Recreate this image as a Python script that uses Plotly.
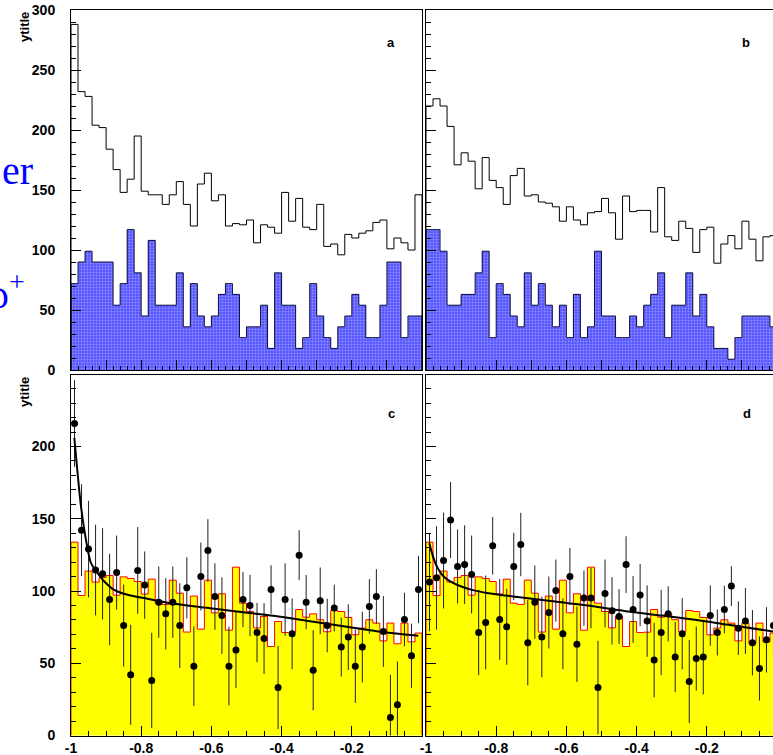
import numpy as np
import plotly.graph_objects as go

# ---------------------------------------------------------------- binning
n_bins = 50
edges = np.linspace(-1.0, 0.0, n_bins + 1)
centers = 0.5 * (edges[:-1] + edges[1:])
bin_w = edges[1] - edges[0]

# ---------------------------------------------------------------- panel a
a_total = [288, 232, 228, 204, 202, 184, 167, 148, 159, 195,
           149, 146, 146, 138, 146, 157, 138, 120, 155, 164,
           141, 146, 120, 122, 121, 125, 106, 121, 119, 114,
           148, 124, 143, 119, 117, 138, 103, 105, 96, 113,
           110, 114, 116, 123, 125, 101, 110, 106, 100, 146]
a_signal = [72, 90, 99, 90, 90, 90, 54, 72, 117, 81,
            45, 108, 54, 54, 54, 81, 36, 72, 45, 36,
            45, 63, 72, 63, 27, 36, 36, 54, 18, 81,
            54, 54, 18, 27, 72, 45, 27, 18, 36, 45,
            63, 54, 27, 27, 54, 90, 90, 27, 45, 45]

# ---------------------------------------------------------------- panel b
b_total = [220, 226, 220, 203, 171, 181, 174, 151, 177, 158,
           152, 138, 162, 168, 145, 146, 140, 139, 136, 124,
           136, 125, 121, 131, 132, 143, 131, 109, 145, 132,
           133, 133, 115, 152, 111, 108, 124, 118, 98, 117,
           119, 89, 105, 112, 101, 124, 109, 91, 111, 112]
b_signal = [117, 117, 99, 54, 54, 63, 63, 81, 99, 27,
            72, 63, 45, 36, 81, 54, 72, 54, 36, 54,
            27, 63, 27, 36, 99, 45, 45, 27, 27, 45,
            36, 54, 63, 81, 27, 54, 54, 81, 45, 63,
            36, 18, 18, 9, 27, 45, 45, 45, 45, 36]

# ------------------------------------------- reference shape (panels c, d)
mc_ref = [133.8, 96.9, 113.8, 106.2, 109.4, 110.7, 97.1, 109.8, 108.7, 106.6,
          97.9, 108.2, 91.6, 90.7, 107.5, 98.5, 71.6, 96.5, 73.6, 107.5,
          84.9, 98.1, 72.9, 116.5, 91.6, 85.8, 74.5, 82.4, 61.6, 78.9,
          71.3, 71.5, 87.2, 81.9, 84.2, 80.1, 71.8, 86.5, 85.8, 81.7,
          69.7, 74.3, 80.1, 77.8, 65.5, 77.8, 63.5, 77.8, 64.8, 70.9]

# ---------------------------------------------------------------- panel c
c_data = [215.9, 142.1, 129, 114.5, 111.9, 94.1, 112.8, 76.1, 42, 114.2,
          104.1, 38.1, 92.3, 84.2, 92.3, 76.1, 102.2, 48, 110, 128,
          96.2, 83, 48, 59.1, 94.1, 90, 71.3, 67.1, 101, 33.2,
          94.1, 70.4, 124.8, 92.3, 45.2, 93.2, 76.1, 88.2, 61.2, 68.1,
          48, 61.2, 89.3, 96.2, 72, 12.5, 21.2, 80.3, 55.2, 101]
c_err = [30, 31.8, 33.4, 31.4, 31.6, 31.6, 25.6, 28.4, 34.6, 30,
         23.3, 33, 24.7, 24.7, 24.7, 29.3, 21.2, 27.5, 23.5, 21.7,
         23, 26.5, 27.2, 26.3, 19.1, 21.2, 20.5, 24.5, 16.8, 28.8,
         25.1, 24.5, 17.3, 18.8, 27.7, 23.1, 18.5, 16.2, 20.4, 22.7,
         25.4, 24.5, 18.9, 18.9, 24.5, 29.5, 30, 18.5, 22.2, 23.3]
fit_c_x = [-0.9905, -0.981, -0.9715, -0.9573, -0.943, -0.924, -0.905, -0.877,
           -0.839, -0.791, -0.715, -0.620, -0.504, -0.409, -0.314, -0.219,
           -0.125, -0.0105]
fit_c_y = [206, 181, 158.5, 135.4, 119.3, 112.4, 106.6, 100.8,
           97.4, 95.1, 91.6, 88.6, 85.1, 82.4, 78.9, 75.4,
           72, 69]

# ---------------------------------------------------------------- panel d
d_data = [106.2, 109.1, 121.1, 149.1, 117, 118.3, 111.4, 71.3, 78.2, 131.3,
          80.3, 75.2, 117, 132.2, 64.2, 92.3, 68.1, 85.1, 100.3, 70.4,
          110, 63.2, 95.1, 95.1, 33.2, 98.3, 86.3, 82.4, 118.3, 87.2,
          97.2, 79.2, 52.2, 71.3, 84.2, 54.3, 70.4, 37.4, 53.3, 54.3,
          83, 71.3, 87.2, 103.4, 74.3, 79.2, 64.2, 46.4, 66.2, 76.1]
d_err = [34, 35.8, 33.2, 26.3, 25.6, 27.2, 27, 29.5, 32.5, 19.9,
         27.9, 26.3, 23.3, 21.9, 29.5, 25.4, 27.9, 24.9, 21.5, 24.5,
         19.8, 26.1, 19.1, 20.8, 32.3, 23.5, 23.3, 18.9, 19.6, 23.1,
         21.5, 24.7, 25.8, 29.5, 19.1, 24.2, 24.7, 28.8, 22.2, 25.8,
         20.8, 15.9, 16.4, 13.8, 18.5, 22.8, 22.6, 22.2, 22.6, 22]
fit_d_x = [-0.9905, -0.9829, -0.9734, -0.964, -0.9497, -0.931, -0.907, -0.869,
           -0.822, -0.774, -0.727, -0.632, -0.5185, -0.4236, -0.3286, -0.2336,
           -0.1387, -0.0114]
fit_d_y = [133.1, 126.2, 119.3, 114.7, 110, 106.6, 103.8, 100.8,
           98.5, 96.9, 95.5, 92.7, 89.3, 85.8, 83, 80.1,
           76.6, 72]

# ---------------------------------------------------------------- axis text
y_ticks_top = [0, 50, 100, 150, 200, 250, 300]
y_ticks_bottom = [0, 50, 100, 150, 200]
x_tick_vals = [-1.0, -0.8, -0.6, -0.4, -0.2]
x_tick_text = ["-1", "-0.8", "-0.6", "-0.4", "-0.2"]
panel_tags = ["a", "b", "c", "d"]
y_title = "ytitle"

# ---------------------------------------------------------------- geometry
W, H = 773, 755
SANS = "Liberation Sans, Arial, Helvetica, sans-serif"
BLUE_FILL = "#5555ff"


def px_x(p):
    return p / W


def px_y(p):
    return (H - p) / H


dom_left = [px_x(71), px_x(422)]
dom_right = [px_x(426), 1.0]
dom_top = [px_y(370), px_y(10)]
dom_bottom = [px_y(735.5), px_y(375)]
right_range = [-1.0, -1.0 + (W - 426) / 351.0]


def step_outline(vals):
    xs = [edges[0]] + list(edges[:-1]) + [edges[-1], edges[-1]]
    ys = [0] + list(vals) + [vals[-1], 0]
    return xs, ys


fig = go.Figure()


def add_top_panel(total, signal, xa, ya):
    fig.add_trace(go.Bar(
        x=centers, y=signal, width=bin_w, xaxis=xa, yaxis=ya,
        marker=dict(color=BLUE_FILL, line=dict(width=0),
                    pattern=dict(shape=".", size=3, solidity=0.35,
                                 fgcolor="#c8c8ff", fillmode="overlay")),
        hoverinfo="skip"))
    sx, sy = step_outline(signal)
    fig.add_trace(go.Scatter(x=sx, y=sy, mode="lines", xaxis=xa, yaxis=ya,
                             line=dict(color="#101040", width=1, shape="hv"),
                             hoverinfo="skip"))
    tx, ty = step_outline(total)
    fig.add_trace(go.Scatter(x=tx, y=ty, mode="lines", xaxis=xa, yaxis=ya,
                             line=dict(color="black", width=1, shape="hv"),
                             hoverinfo="skip"))


def add_bottom_panel(data, err, fx, fy, xa, ya):
    fig.add_trace(go.Bar(
        x=centers, y=mc_ref, width=bin_w, xaxis=xa, yaxis=ya,
        marker=dict(color="#ffff00", line=dict(width=0)), hoverinfo="skip"))
    sx, sy = step_outline(mc_ref)
    fig.add_trace(go.Scatter(x=sx, y=sy, mode="lines", xaxis=xa, yaxis=ya,
                             line=dict(color="#ff0000", width=1, shape="hv"),
                             hoverinfo="skip"))
    fig.add_trace(go.Scatter(
        x=centers, y=data, mode="markers", xaxis=xa, yaxis=ya,
        marker=dict(color="black", size=7),
        error_y=dict(type="data", array=err, width=0, thickness=1,
                     color="#202020"),
        hoverinfo="skip"))
    fig.add_trace(go.Scatter(x=fx, y=fy, mode="lines", xaxis=xa, yaxis=ya,
                             line=dict(color="black", width=2, shape="spline",
                                       smoothing=0.8),
                             hoverinfo="skip"))


add_top_panel(a_total, a_signal, "x", "y")
add_top_panel(b_total, b_signal, "x2", "y2")
add_bottom_panel(c_data, c_err, fit_c_x, fit_c_y, "x3", "y3")
add_bottom_panel(d_data, d_err, fit_d_x, fit_d_y, "x4", "y4")

tick_font = dict(family=SANS, size=14, color="black", weight="bold")
common = dict(showline=True, linecolor="black", linewidth=1, ticks="inside",
              tickcolor="black", tickwidth=1, showgrid=False, zeroline=False,
              tickfont=tick_font, layer="above traces", automargin=False)


def top_x(domain, rng, anchor):
    return dict(common, domain=domain, range=rng, anchor=anchor, mirror=True,
                tickmode="linear", tick0=-1, dtick=0.1, ticklen=10,
                showticklabels=False,
                minor=dict(ticks="inside", tickmode="linear", tick0=-1,
                           dtick=0.02, ticklen=4, tickcolor="black"))


def bottom_x(domain, rng, anchor):
    return dict(common, domain=domain, range=rng, anchor=anchor, mirror=True,
                tickmode="array", tickvals=x_tick_vals, ticktext=x_tick_text,
                ticklen=10, ticklabelstandoff=0,
                minor=dict(ticks="inside", tickmode="linear", tick0=-1,
                           dtick=0.05, ticklen=5, tickcolor="black"))


def y_axis(domain, rng, anchor, tickvals, labels, mirror):
    return dict(common, domain=domain, range=rng, anchor=anchor, mirror=mirror,
                tickmode="array", tickvals=tickvals, ticklen=10,
                showticklabels=labels, ticklabelstandoff=12,
                minor=dict(ticks="inside", tickmode="linear", tick0=0,
                           dtick=10, ticklen=5, tickcolor="black"))


fig.update_layout(
    template="none",
    width=W, height=H,
    margin=dict(l=0, r=0, t=0, b=0, autoexpand=False),
    paper_bgcolor="white", plot_bgcolor="white",
    showlegend=False, bargap=0, barmode="overlay",
    font=dict(family=SANS, size=14, color="black"),
    xaxis=top_x(dom_left, [-1.0, 0.0], "y"),
    yaxis=y_axis(dom_top, [0, 300], "x", y_ticks_top, True, True),
    xaxis2=top_x(dom_right, right_range, "y2"),
    yaxis2=y_axis(dom_top, [0, 300], "x2", y_ticks_top, False, False),
    xaxis3=bottom_x(dom_left, [-1.0, 0.0], "y3"),
    yaxis3=y_axis(dom_bottom, [0, 249.5], "x3", y_ticks_bottom, True, True),
    xaxis4=bottom_x(dom_right, right_range, "y4"),
    yaxis4=y_axis(dom_bottom, [0, 249.5], "x4", y_ticks_bottom, False, False),
)

# panel letters
tag_pos = [(391, 42), (746, 42), (391, 413), (747, 413)]
for tag, (tx, ty) in zip(panel_tags, tag_pos):
    fig.add_annotation(text=tag, x=px_x(tx), y=px_y(ty), xref="paper",
                       yref="paper", showarrow=False, xanchor="center",
                       yanchor="middle",
                       font=dict(family=SANS, size=13, color="black",
                                 weight="bold"))

# axis titles
for ty in (27, 392):
    fig.add_annotation(text=y_title, x=px_x(24), y=px_y(ty), xref="paper",
                       yref="paper", showarrow=False, textangle=-90,
                       xanchor="center", yanchor="middle",
                       font=dict(family=SANS, size=13, color="black",
                                 weight="bold"))

# overlapping blue labels at the left edge
fig.add_annotation(text="er", x=0, y=px_y(170), xref="paper", yref="paper",
                   showarrow=False, xanchor="left", yanchor="middle",
                   font=dict(family="Liberation Serif, serif", size=40,
                             color="#0000ff"))
fig.add_annotation(text="ρ<sup>+</sup>", x=px_x(27), y=px_y(292),
                   xref="paper", yref="paper", showarrow=False,
                   xanchor="right", yanchor="middle",
                   font=dict(family="Liberation Serif, serif", size=40,
                             color="#0000ff"))

fig.write_html("out.html")
